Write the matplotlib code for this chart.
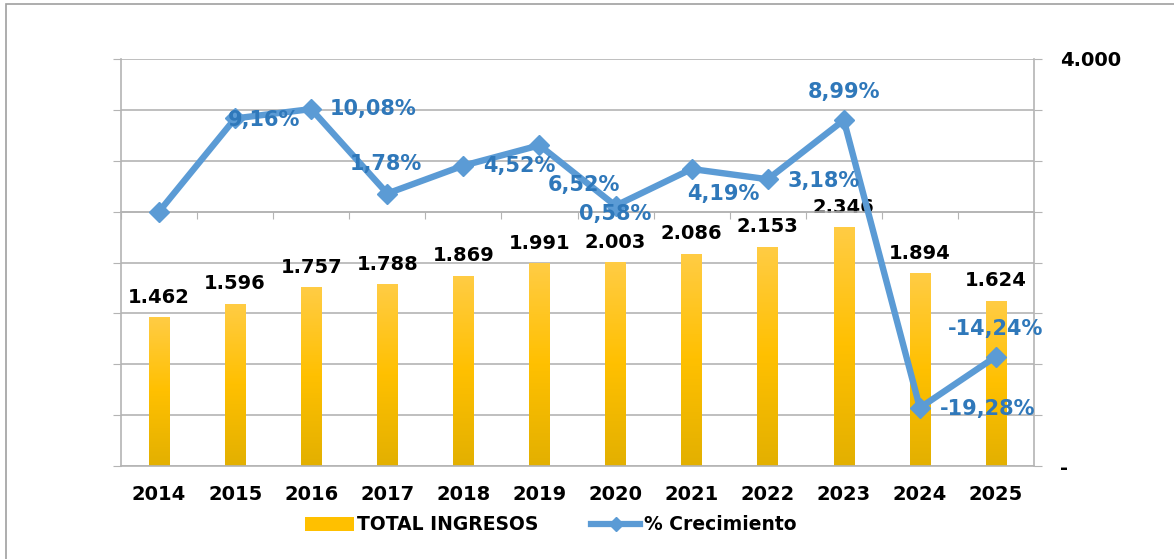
import numpy as np
import matplotlib
matplotlib.use("Agg")
import matplotlib.pyplot as plt
from matplotlib.patches import Patch, Rectangle
from matplotlib.lines import Line2D

plt.rcParams["font.weight"] = "bold"

# data
years = ["2014", "2015", "2016", "2017", "2018", "2019",
         "2020", "2021", "2022", "2023", "2024", "2025"]
ingresos = [1462, 1596, 1757, 1788, 1869, 1991, 2003, 2086, 2153, 2346, 1894, 1624]
crecimiento = [0.0, 9.16, 10.08, 1.78, 4.52, 6.52, 0.58, 4.19, 3.18, 8.99, -19.28, -14.24]

# label offsets for the % labels (pixels)
pct_offsets = [None, (29, -2), (62, 0), (-1, 30), (56, 0), (44, -40), (0, -8),
               (32, -25), (56, -2), (0, 28), (68, -1), (0, 28)]

grid_c = "#B4B4B4"
bar_c = "#FFC000"
line_c = "#5B9BD5"
lbl_c = "#2F78BA"
fs = 14

fig = plt.figure(figsize=(11.74, 5.59), dpi=100)
rect = [121 / 1174, 93 / 559, 913 / 1174, 407 / 559]
ax = fig.add_axes(rect)

x = np.arange(len(years))
bars = ax.bar(x, ingresos, width=0.27, color=bar_c, zorder=2)

# vertical gradient on each bar (lighter on top)
grad = np.linspace(0, 1, 100).reshape(-1, 1)
cmap = matplotlib.colors.LinearSegmentedColormap.from_list(
    "g", ["#E3B000", "#FFC000", "#FFCC44"])
for b in bars:
    im = ax.imshow(grad, cmap=cmap, aspect="auto", zorder=2.5, origin="lower",
                   extent=(b.get_x(), b.get_x() + b.get_width(), 0, b.get_height()))
    im.set_clip_path(b)

for xi, v in zip(x, ingresos):
    ax.annotate(f"{v:,}".replace(",", "."), (xi, v), xytext=(0, 20),
                textcoords="offset pixels", ha="center", va="center",
                fontsize=fs, color="black", zorder=5)

ax.set_xlim(-0.5, len(years) - 0.5)
ax.set_ylim(0, 4000)
ticks = np.arange(0, 4001, 500)
ax.set_yticks(ticks)
ax.set_yticklabels(["-" if t == 0 else ("4.000" if t == 4000 else "") for t in ticks])
ax.grid(axis="y", color=grid_c, lw=1.2, zorder=0)
ax.set_axisbelow(True)
ax.tick_params(axis="y", left=True, right=True, labelleft=False, labelright=True,
               direction="out", length=6, color=grid_c, pad=13, labelsize=fs)
ax.set_xticks(x, years)
ax.tick_params(axis="x", length=0, pad=14, labelsize=fs)
for s in ax.spines.values():
    s.set_color(grid_c)
    s.set_linewidth(1.2)
ax.spines["top"].set_visible(False)

# growth line on its own overlay axes
ax2 = fig.add_axes(rect, facecolor="none")
ax2.set_xlim(-0.5, len(years) - 0.5)
ax2.set_ylim(-25, 15)
ax2.plot(x, crecimiento, color=line_c, lw=4.6, marker="D", markersize=10, zorder=4)
for xi, v, off in zip(x, crecimiento, pct_offsets):
    if off is None:
        continue
    ax2.annotate(f"{v:.2f}%".replace(".", ","), (xi, v), xytext=off,
                 textcoords="offset pixels", ha="center", va="center",
                 fontsize=15, color=lbl_c, zorder=6)
ax2.set_yticks([])
for s in ["top", "left", "right"]:
    ax2.spines[s].set_visible(False)
ax2.spines["bottom"].set_position(("data", 0))
ax2.spines["bottom"].set_color(grid_c)
ax2.spines["bottom"].set_linewidth(1.2)
ax2.set_xticks(np.arange(-0.5, len(years), 1))
ax2.set_xticklabels([])
ax2.tick_params(axis="x", direction="out", length=5, color=grid_c)

# legend
handles = [Patch(facecolor=bar_c, edgecolor="none"),
           Line2D([0], [0], color=line_c, lw=4.5, marker="D", markersize=7)]
fig.legend(handles, ["TOTAL INGRESOS", "% Crecimiento"], loc="center",
           bbox_to_anchor=(0.469, 1 - 525 / 559), ncol=2, frameon=False,
           prop={"size": 13.5, "weight": "bold"}, handlelength=2.6,
           handletextpad=0.2, columnspacing=2.8)

# chart frame
fig.add_artist(Rectangle((6 / 1174, -0.05), 1.1, 1.05 - 4 / 559,
                         transform=fig.transFigure, fill=False,
                         ec="#A0A0A0", lw=1.2))

fig.savefig("out.png", dpi=100)
